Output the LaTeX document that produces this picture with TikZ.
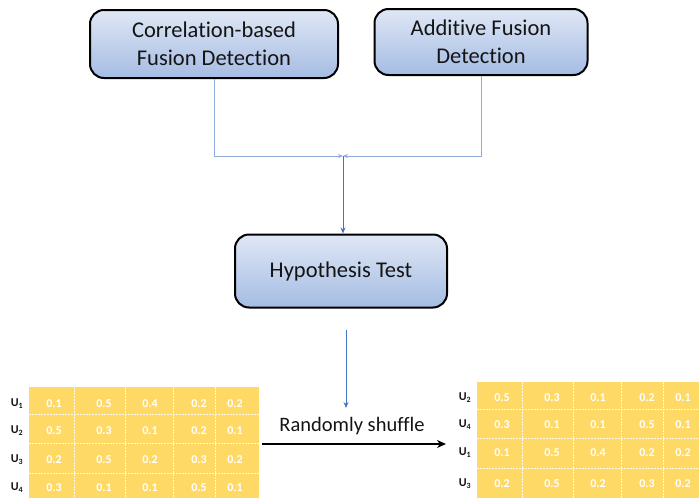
\documentclass[tikz,border=0pt]{standalone}
\usepackage{fontspec}
\setmainfont{Carlito}[Ligatures=NoCommon, BoldFont={Carlito Bold}]
\usepackage{xcolor}
\usetikzlibrary{arrows.meta}
\definecolor{pBoxTop}{HTML}{DFE7F5}
\definecolor{pBoxBottom}{HTML}{A5BCE3}
\definecolor{pLinkLight}{HTML}{8FAADC}
\definecolor{pLinkDark}{HTML}{4472C4}
\definecolor{pCellFill}{HTML}{FFD966}
\definecolor{pLabelInk}{HTML}{141414}
\newcommand{\pBoxText}[1]{\fontsize{22.5}{28}\selectfont #1}
\newcommand{\pRowLabel}[1]{{\fontsize{12}{12}\selectfont\bfseries U\textsubscript{\bfseries #1}}}
% one table row: name prefix, y, label index, five values
\newcommand{\pTableRow}[8]{%
  \node[pRowLab] (#1-lab) at (-12,#2) {\pRowLabel{#3}};
  \node[pCell] (#1-a) at (25,#2) {#4};
  \node[pCell] (#1-b) at (75,#2) {#5};
  \node[pCell] (#1-c) at (121,#2) {#6};
  \node[pCell] (#1-d) at (170,#2) {#7};
  \node[pCell] (#1-e) at (206,#2) {#8};
}
\newcommand{\pTableGrid}{%
  \fill[pCellFill] (0,0) rectangle (230,125);
  \foreach \gx in {45,96,144,186}
    \draw[pGridLine] (\gx,0) -- (\gx,125);
  \foreach \gy in {27,56,86}
    \draw[pGridLine] (0,\gy) -- (230,\gy);
}
\tikzset{
  pFlowBox/.style={draw=black, line width=2pt, rounded corners=14pt,
    top color=pBoxTop, bottom color=pBoxBottom, align=center,
    font=\pBoxText, text=pLabelInk},
  pCell/.style={inner sep=0pt, text=white, font=\fontsize{12}{12}\selectfont\bfseries},
  pRowLab/.style={inner sep=0pt, text=pLabelInk},
  pGridLine/.style={white!85!pCellFill, line width=0.4pt, dash pattern=on 1.5pt off 1.5pt},
  pLinkIn/.style={pLinkLight, line width=1pt, -{Stealth[length=5pt,width=4pt]}},
  pLinkOut/.style={pLinkDark, line width=1pt, -{Stealth[length=6pt,width=5pt]}}
}

\begin{document}
\begin{tikzpicture}[x=1pt,y=-1pt]
\useasboundingbox (0,0) rectangle (699,498);
\clip (0,0) rectangle (699,498);

% detection stages
\node[pFlowBox, minimum width=248pt, minimum height=68pt] (corr) at (214,44) {Correlation-based\\Fusion Detection};
\node[pFlowBox, minimum width=213pt, minimum height=66pt] (addi) at (481,42) {Additive Fusion\\Detection};
\node[pFlowBox, minimum width=212pt, minimum height=73pt] (hypo) at (341,271) {Hypothesis Test};

% merge into the test
\coordinate (merge) at (343,156);
\draw[pLinkIn] (corr.south) |- (merge);
\draw[pLinkIn] (addi.south) |- (merge);
\draw[pLinkOut] (merge) -- (merge |- hypo.north);

\coordinate (hypoOut) at (346,330);
\coordinate (shufIn) at (346,408);
\draw[pLinkOut] (hypoOut) -- (shufIn);

% tables before and after shuffling
\begin{scope}[shift={(29,387)}]
  \pTableGrid
  \pTableRow{L1}{17}{1}{0.1}{0.5}{0.4}{0.2}{0.2}
  \pTableRow{L2}{44}{2}{0.5}{0.3}{0.1}{0.2}{0.1}
  \pTableRow{L3}{73}{3}{0.2}{0.5}{0.2}{0.3}{0.2}
  \pTableRow{L4}{101}{4}{0.3}{0.1}{0.1}{0.5}{0.1}
\end{scope}
\begin{scope}[shift={(477,382)}]
  \pTableGrid
  \pTableRow{R1}{16}{2}{0.5}{0.3}{0.1}{0.2}{0.1}
  \pTableRow{R2}{43}{4}{0.3}{0.1}{0.1}{0.5}{0.1}
  \pTableRow{R3}{71}{1}{0.1}{0.5}{0.4}{0.2}{0.2}
  \pTableRow{R4}{102}{3}{0.2}{0.5}{0.2}{0.3}{0.2}
\end{scope}

\coordinate (shufFrom) at (262,444);
\coordinate (shufTo) at (446,444);
\draw[black, line width=1.5pt, -{Stealth[length=9pt,width=8pt]}] (shufFrom) -- (shufTo);
\node[font=\fontsize{20.5}{20.5}\selectfont, text=pLabelInk] (shufText) at (352,426) {Randomly shuffle};
\end{tikzpicture}
\end{document}
